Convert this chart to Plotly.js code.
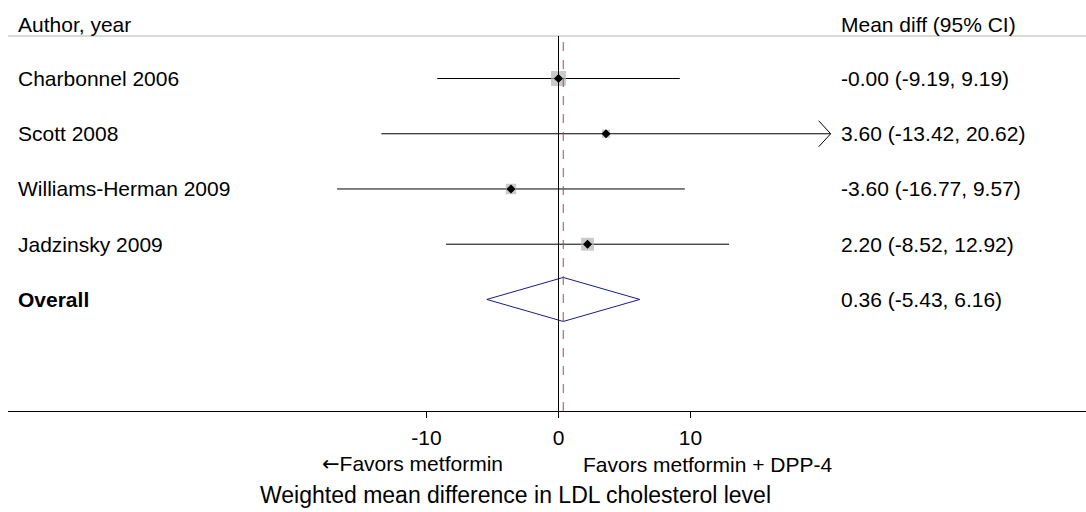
<!DOCTYPE html>
<html>
<head>
<meta charset="utf-8">
<script src="https://cdn.plot.ly/plotly-3.0.1.min.js"></script>
<style>html,body{margin:0;padding:0;background:#fff;}#chart{width:1086px;height:512px;}</style>
</head>
<body>
<div id="chart"></div>
<script>
// ---- data ----
const studies = ['Charbonnel 2006', 'Scott 2008', 'Williams-Herman 2009', 'Jadzinsky 2009'];
const estimates = [0.00, 3.60, -3.60, 2.20];
const lowerCI = [-9.19, -13.42, -16.77, -8.52];
const upperCI = [9.19, 20.62, 9.57, 12.92];
const weights = [39.8, 11.6, 19.4, 29.2];
const ciText = ['-0.00 (-9.19, 9.19)', '3.60 (-13.42, 20.62)', '-3.60 (-16.77, 9.57)', '2.20 (-8.52, 12.92)'];
const arrowRight = [false, true, false, false];
const overallLabel = 'Overall';
const overallEst = 0.36;
const overallLo = -5.43;
const overallHi = 6.16;
const overallText = '0.36 (-5.43, 6.16)';
const tickVals = [-10, 0, 10];
const tickText = ['-10', '0', '10'];

// ---- geometry helpers ----
const W = 1086, H = 512;
const mL = 8, mR = 0, mT = 36, mB = 101;
const pxPerUnit = 13.2;
const zeroPx = 558.5;
const xRange = [(mL - zeroPx) / pxPerUnit, (W - mR - zeroPx) / pxPerUnit];
const yRange = [6.02, -0.77];
const plotH = H - mT - mB;
const pxPerRow = plotH / (yRange[0] - yRange[1]);
const FONT = 'Liberation Sans, Arial, sans-serif';
const px2paperX = p => (p - mL) / (W - mL - mR);
const px2paperY = p => (H - mB - p) / plotH;

const traces = [];
const rows = studies.map((_, i) => i);

// CI lines
studies.forEach((s, i) => {
  traces.push({
    x: [lowerCI[i], upperCI[i]], y: [i, i], mode: 'lines', type: 'scatter',
    line: {color: '#000', width: 1}, hoverinfo: 'skip', showlegend: false
  });
  if (arrowRight[i]) {
    const dx = 12 / pxPerUnit, dy = 13 / pxPerRow;
    traces.push({
      x: [upperCI[i] - dx, upperCI[i], upperCI[i] - dx], y: [i - dy, i, i + dy],
      mode: 'lines', type: 'scatter', line: {color: '#000', width: 1},
      hoverinfo: 'skip', showlegend: false
    });
  }
});
// weight boxes
const maxW = Math.max(...weights);
traces.push({
  x: estimates, y: rows, mode: 'markers', type: 'scatter',
  marker: {symbol: 'square', color: '#b4b4b4', size: weights.map(w => 15 * Math.sqrt(w / maxW)), line: {width: 0}},
  hoverinfo: 'skip', showlegend: false
});
// point estimates
traces.push({
  x: estimates, y: rows, mode: 'markers', type: 'scatter',
  marker: {symbol: 'diamond', color: '#000', size: 7, line: {width: 0}},
  hoverinfo: 'skip', showlegend: false
});
// overall diamond
const oy = studies.length;
const dh = 22 / pxPerRow;
traces.push({
  x: [overallLo, overallEst, overallHi, overallEst, overallLo],
  y: [oy, oy - dh, oy, oy + dh, oy],
  mode: 'lines', type: 'scatter', line: {color: '#1a1a8c', width: 1},
  hoverinfo: 'skip', showlegend: false
});

const annotations = [];
const labelFont = {family: FONT, size: 21, color: '#000'};
const leftX = px2paperX(16), rightX = px2paperX(839);
studies.forEach((s, i) => {
  annotations.push({xref: 'paper', yref: 'y', x: leftX, y: i, text: s, showarrow: false, xanchor: 'left', yanchor: 'middle', font: labelFont});
  annotations.push({xref: 'paper', yref: 'y', x: rightX, y: i, text: ciText[i], showarrow: false, xanchor: 'left', yanchor: 'middle', font: labelFont});
});
annotations.push({xref: 'paper', yref: 'y', x: leftX, y: oy, text: '<b>' + overallLabel + '</b>', showarrow: false, xanchor: 'left', yanchor: 'middle', font: labelFont});
annotations.push({xref: 'paper', yref: 'y', x: rightX, y: oy, text: overallText, showarrow: false, xanchor: 'left', yanchor: 'middle', font: labelFont});
annotations.push({xref: 'paper', yref: 'paper', x: leftX, y: px2paperY(25), text: 'Author, year', showarrow: false, xanchor: 'left', yanchor: 'middle', font: labelFont});
annotations.push({xref: 'paper', yref: 'paper', x: rightX, y: px2paperY(25), text: 'Mean diff (95% CI)', showarrow: false, xanchor: 'left', yanchor: 'middle', font: labelFont});
const favFont = {family: FONT, size: 21, color: '#000'};
annotations.push({xref: 'paper', yref: 'paper', x: px2paperX(320), y: px2paperY(464), text: '<span style="font-family:DejaVu Sans">←</span>Favors metformin', showarrow: false, xanchor: 'left', yanchor: 'middle', font: favFont});
annotations.push({xref: 'paper', yref: 'paper', x: px2paperX(581), y: px2paperY(464), text: 'Favors metformin + DPP-4', showarrow: false, xanchor: 'left', yanchor: 'middle', font: favFont});
annotations.push({xref: 'paper', yref: 'paper', x: px2paperX(515), y: px2paperY(495), text: 'Weighted mean difference in LDL cholesterol level', showarrow: false, xanchor: 'center', yanchor: 'middle', font: {family: FONT, size: 23, color: '#000'}});

const layout = {
  width: W, height: H,
  margin: {l: mL, r: mR, t: mT, b: mB, pad: 0},
  paper_bgcolor: '#fff', plot_bgcolor: '#fff',
  showlegend: false,
  xaxis: {
    range: xRange, showgrid: false, zeroline: false,
    showline: true, linecolor: '#000', linewidth: 1,
    ticks: 'outside', ticklen: 6, tickcolor: '#000', tickwidth: 1,
    tickmode: 'array', tickvals: tickVals, ticktext: tickText,
    tickfont: {family: FONT, size: 21, color: '#000'}, ticklabelstandoff: 2,
    fixedrange: true
  },
  yaxis: {
    range: yRange, showgrid: false, zeroline: false, showline: false,
    showticklabels: false, ticks: '', fixedrange: true
  },
  shapes: [
    {type: 'line', xref: 'paper', yref: 'paper', x0: 0, x1: 1, y0: 1, y1: 1, line: {color: '#b4b4b4', width: 1}},
    {type: 'line', xref: 'x', yref: 'paper', x0: 0, x1: 0, y0: 0, y1: 1, line: {color: '#000', width: 1}},
    {type: 'line', xref: 'x', yref: 'paper', x0: overallEst, x1: overallEst, y0: 0, y1: 1, line: {color: '#a0505f', width: 1, dash: 'dash'}}
  ],
  annotations: annotations
};

Plotly.newPlot('chart', traces, layout, {displayModeBar: false, staticPlot: true});
</script>
</body>
</html>
